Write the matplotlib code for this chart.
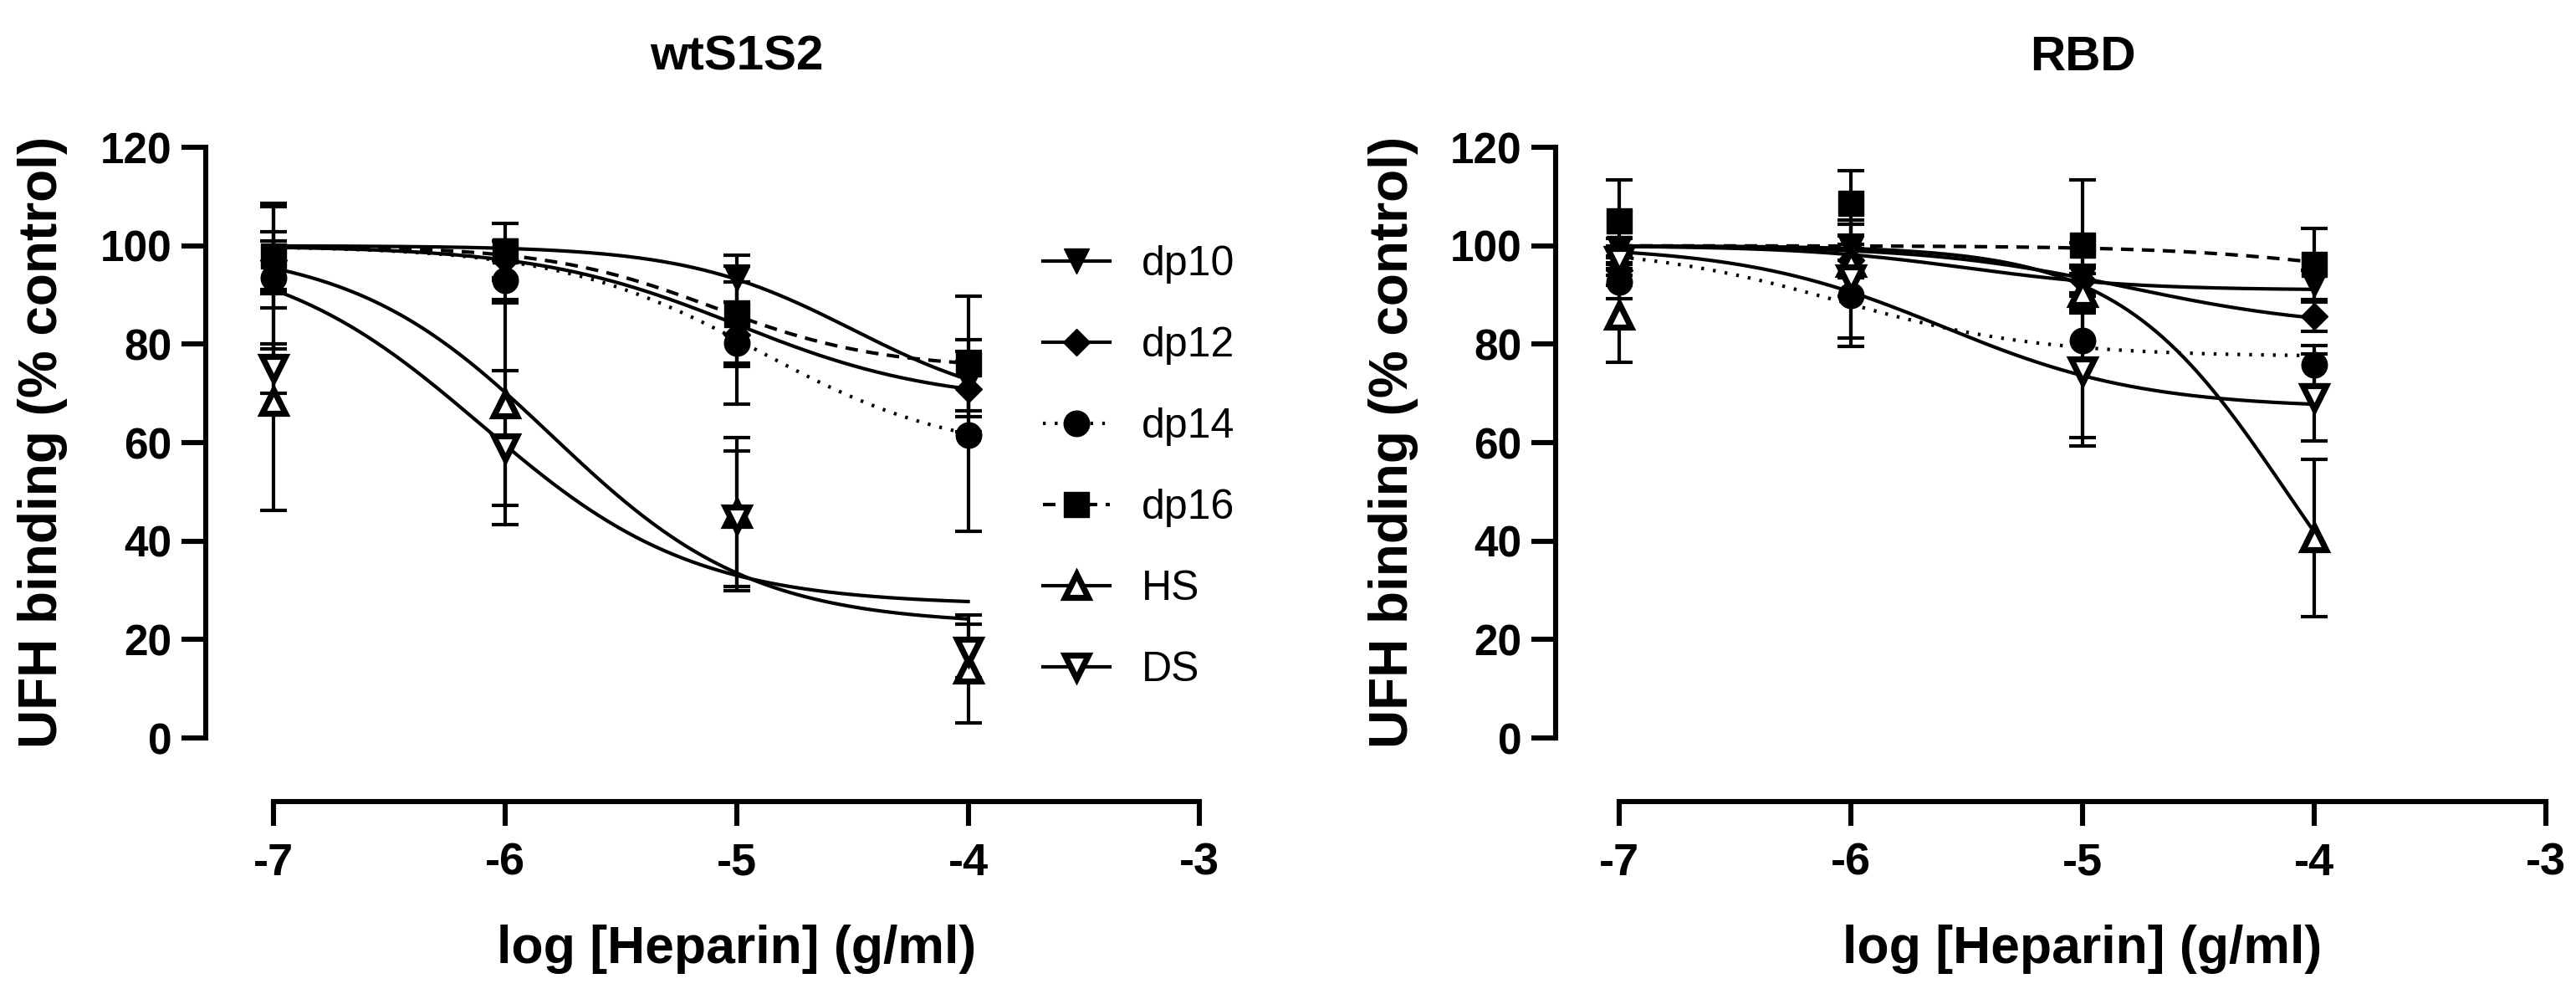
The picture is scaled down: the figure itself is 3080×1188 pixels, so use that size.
import numpy as np
import matplotlib
matplotlib.use('Agg')
from matplotlib import pyplot as plt
from matplotlib.lines import Line2D
from matplotlib import transforms

plt.rcParams['font.family'] = ['Liberation Sans', 'DejaVu Sans']
plt.rcParams['axes.unicode_minus'] = False

# x positions (log g/ml)
log_conc = [-7, -6, -5, -4]
series_names = ['dp10', 'dp12', 'dp14', 'dp16', 'HS', 'DS']

# wtS1S2 : mean and SD (% control)
wt_dp10 = [96.0, 99.0, 93.3, 72.5]
wt_dp10_sd = [5.0, 2.0, 4.8, 6.0]
wt_dp12 = [97.0, 97.0, 82.0, 70.9]
wt_dp12_sd = [5.8, 4.0, 6.6, 5.6]
wt_dp14 = [93.5, 93.0, 80.2, 61.5]
wt_dp14_sd = [14.4, 4.0, 12.4, 19.5]
wt_dp16 = [98.0, 99.0, 86.0, 76.0]
wt_dp16_sd = [10.7, 5.5, 9.8, 13.8]
wt_hs = [68.3, 67.8, 45.5, 14.0]
wt_hs_sd = [22.0, 20.6, 15.5, 11.0]
wt_ds = [75.1, 59.0, 44.5, 17.7]
wt_ds_sd = [5.0, 15.6, 13.8, 5.4]

# RBD : mean and SD (% control)
rbd_dp10 = [99.5, 99.5, 93.0, 92.1]
rbd_dp10_sd = [2.0, 2.5, 2.5, 3.0]
rbd_dp12 = [95.0, 97.0, 93.0, 85.6]
rbd_dp12_sd = [3.0, 7.3, 3.0, 2.9]
rbd_dp14 = [92.7, 89.9, 80.8, 75.8]
rbd_dp14_sd = [3.5, 10.4, 19.8, 4.0]
rbd_dp16 = [105.0, 108.7, 100.2, 96.2]
rbd_dp16_sd = [8.4, 6.6, 13.2, 7.4]
rbd_hs = [85.9, 96.5, 90.4, 40.6]
rbd_hs_sd = [9.5, 3.0, 4.0, 16.0]
rbd_ds = [97.0, 93.3, 74.6, 69.2]
rbd_ds_sd = [3.0, 12.0, 15.2, 8.8]

# fitted curves: top, bottom, logIC50, hill
wt_fit_dp10 = [100, 66, -4.5, 1.2]
wt_fit_dp12 = [100, 68, -5.0, 1.0]
wt_fit_dp14 = [100, 57, -4.9, 1.0]
wt_fit_dp16 = [100, 75, -5.1, 1.2]
wt_fit_hs = [100, 23, -5.8, 1.0]
wt_fit_ds = [100, 27, -6.1, 0.95]

rbd_fit_dp10 = [100, 91, -5.5, 1.2]
rbd_fit_dp12 = [100, 83, -4.8, 1.0]
rbd_fit_dp14 = [100, 77.5, -6.05, 1.0]
rbd_fit_dp16 = [100, 90, -3.7, 1.0]
rbd_fit_hs = [100, 0, -4.12, 1.2]
rbd_fit_ds = [100, 67, -5.6, 1.0]

# marker / line style per series
STYLE = {
    'dp10': dict(marker='v', ms=11, mfc='k', mew=0.5, ls='-'),
    'dp12': dict(marker='D', ms=8, mfc='k', mew=0.5, ls='-'),
    'dp14': dict(marker='o', ms=11, mfc='k', mew=0.5, ls=(0, (0.8, 2.6))),
    'dp16': dict(marker='s', ms=10.5, mfc='k', mew=0.5, ls=(0, (3.6, 2.4))),
    'HS': dict(marker='^', ms=10, mfc='w', mew=2.6, ls='-'),
    'DS': dict(marker='v', ms=10, mfc='w', mew=2.6, ls='-'),
}
LW = 1.5


def logistic(x, p):
    top, bottom, logic50, hill = p
    return bottom + (top - bottom) / (1 + 10 ** ((x - logic50) * hill))


def draw_panel(ax, means, sds, fits, title, xleft):
    xs = np.linspace(-7, -4, 300)
    for name, m, sd, fit in zip(series_names, means, sds, fits):
        st = STYLE[name]
        ax.plot(xs, logistic(xs, fit), color='k', lw=LW, ls=st['ls'], zorder=2)
        ax.errorbar(log_conc, m, yerr=sd, fmt='none', ecolor='k', elinewidth=LW,
                    capsize=5.8, capthick=LW, zorder=3, clip_on=False)
        ax.plot(log_conc, m, ls='none', marker=st['marker'], ms=st['ms'], mfc=st['mfc'],
                mec='k', mew=st['mew'], zorder=4, clip_on=False)

    ax.set_xlim(xleft, -2.95)
    ax.set_ylim(-12.9, 120)
    ax.spines['top'].set_visible(False)
    ax.spines['right'].set_visible(False)
    ax.spines['left'].set_bounds(0, 120)
    ax.spines['bottom'].set_bounds(-7, -3)
    for s in ['left', 'bottom']:
        ax.spines[s].set_linewidth(2.2)
        ax.spines[s].set_capstyle('projecting')
    ax.set_xticks([-7, -6, -5, -4, -3])
    ax.set_yticks(range(0, 121, 20))
    ax.tick_params(direction='out', length=10.5, width=2.2)
    ax.tick_params(axis='y', pad=4)
    ax.tick_params(axis='x', pad=7)
    for lbl in ax.get_yticklabels():
        lbl.set_fontsize(18.5)
        lbl.set_fontweight('bold')
    for lbl in ax.get_xticklabels():
        lbl.set_fontsize(19.5)
        lbl.set_fontweight('bold')

    trans = transforms.blended_transform_factory(ax.transData, ax.transAxes)
    ax.text(-5, 1.137, title, transform=trans, ha='center', va='center',
            fontsize=21, fontweight='bold')
    ax.text(-5, -0.226, 'log [Heparin] (g/ml)', transform=trans, ha='center', va='center',
            fontsize=22.5, fontweight='bold')
    ax.text(-0.162, 0.549, 'UFH binding (% control)', transform=ax.transAxes, rotation=90,
            ha='center', va='center', fontsize=23, fontweight='bold')


fig = plt.figure(figsize=(15.4, 5.94), dpi=200)
ax1 = fig.add_axes([0.0799, 0.1936, 0.3903, 0.6582])
ax2 = fig.add_axes([0.6039, 0.1936, 0.3890, 0.6582])

draw_panel(ax1,
           [wt_dp10, wt_dp12, wt_dp14, wt_dp16, wt_hs, wt_ds],
           [wt_dp10_sd, wt_dp12_sd, wt_dp14_sd, wt_dp16_sd, wt_hs_sd, wt_ds_sd],
           [wt_fit_dp10, wt_fit_dp12, wt_fit_dp14, wt_fit_dp16, wt_fit_hs, wt_fit_ds],
           'wtS1S2', -7.293)
draw_panel(ax2,
           [rbd_dp10, rbd_dp12, rbd_dp14, rbd_dp16, rbd_hs, rbd_ds],
           [rbd_dp10_sd, rbd_dp12_sd, rbd_dp14_sd, rbd_dp16_sd, rbd_hs_sd, rbd_ds_sd],
           [rbd_fit_dp10, rbd_fit_dp12, rbd_fit_dp14, rbd_fit_dp16, rbd_fit_hs, rbd_fit_ds],
           'RBD', -7.274)

# legend (left panel)
handles = []
for name in series_names:
    st = STYLE[name]
    handles.append(Line2D([], [], color='k', lw=LW, ls=st['ls'], marker=st['marker'],
                          ms=st['ms'], mfc=st['mfc'], mec='k', mew=st['mew']))
ax1.legend(handles, series_names, loc='upper left', bbox_to_anchor=(0.833, 0.85),
           frameon=False, fontsize=18, handlelength=1.6, handletextpad=0.75,
           labelspacing=1.02, borderpad=0, borderaxespad=0)

fig.savefig('out.png', dpi=200)
